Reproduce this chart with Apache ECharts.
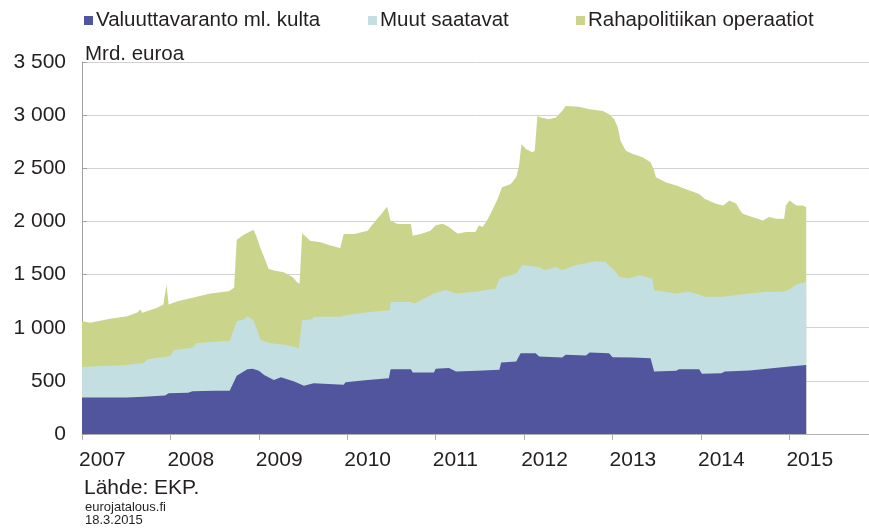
<!DOCTYPE html>
<html>
<head>
<meta charset="utf-8">
<script src="https://cdn.jsdelivr.net/npm/echarts@6/dist/echarts.min.js"></script>
<style>
  html, body { margin: 0; padding: 0; background: #fff; }
  #chart { width: 869px; height: 529px; }
</style>
</head>
<body>
<div id="chart"></div>
<script>
// EKP:n tase, mrd. euroa (luettu kuvasta)
let seriesNames = ['Valuuttavaranto ml. kulta', 'Muut saatavat', 'Rahapolitiikan operaatiot'];
let yearTicks = [2007, 2008, 2009, 2010, 2011, 2012, 2013, 2014, 2015];

// valuuttavaranto (alin kerros)
let reserveYears = [2007.00, 2007.50, 2007.70, 2007.72, 2007.94, 2007.98, 2008.20, 2008.25, 2008.50, 2008.67,
    2008.75, 2008.81, 2008.87, 2008.93, 2009.00, 2009.06, 2009.17, 2009.25, 2009.40, 2009.51,
    2009.62, 2009.96, 2009.98, 2010.23, 2010.25, 2010.47, 2010.49, 2010.72, 2010.74, 2010.98,
    2011.00, 2011.15, 2011.23, 2011.47, 2011.72, 2011.74, 2011.91, 2011.96, 2012.13, 2012.17,
    2012.43, 2012.47, 2012.70, 2012.74, 2012.96, 2013.00, 2013.23, 2013.43, 2013.47, 2013.72,
    2013.75, 2013.98, 2014.01, 2014.23, 2014.27, 2014.55, 2015.00, 2015.02, 2015.19];
let reserveValues = [344, 344, 350, 359, 362, 384, 388, 403, 406, 406,
    547, 578, 609, 615, 594, 556, 509, 534, 494, 454,
    478, 463, 488, 509, 525, 525, 609, 609, 578, 578,
    615, 620, 589, 595, 604, 673, 682, 760, 760, 729,
    720, 745, 738, 767, 760, 723, 719, 713, 588, 594,
    609, 609, 566, 572, 588, 597, 634, 650, 650];

// valuuttavaranto + muut saatavat
let otherYears = [2007.00, 2007.50, 2007.70, 2007.74, 2008.00, 2008.04, 2008.25, 2008.29, 2008.60, 2008.67,
    2008.75, 2008.83, 2008.87, 2008.94, 2009.02, 2009.13, 2009.32, 2009.45, 2009.49, 2009.60,
    2009.62, 2009.92, 2009.98, 2010.25, 2010.48, 2010.49, 2010.72, 2010.76, 2010.87, 2010.98,
    2011.00, 2011.11, 2011.23, 2011.45, 2011.68, 2011.72, 2011.91, 2011.98, 2012.17, 2012.23,
    2012.36, 2012.43, 2012.58, 2012.81, 2012.92, 2013.02, 2013.08, 2013.19, 2013.30, 2013.45,
    2013.47, 2013.72, 2013.87, 2014.00, 2014.04, 2014.25, 2014.47, 2014.74, 2014.92, 2015.00,
    2015.08, 2015.19];
let otherValues = [631, 650, 669, 703, 734, 790, 812, 853, 875, 875,
    1062, 1078, 1109, 1071, 884, 853, 837, 806, 1071, 1080,
    1102, 1102, 1118, 1149, 1165, 1243, 1243, 1227, 1274, 1321,
    1338, 1354, 1323, 1338, 1370, 1463, 1510, 1588, 1572, 1541,
    1572, 1541, 1588, 1625, 1619, 1541, 1478, 1463, 1494, 1463,
    1353, 1322, 1338, 1306, 1291, 1291, 1316, 1338, 1338, 1359,
    1406, 1431];

// kaikki yhteensa (ylin reuna)
let totalYears = [2007.00, 2007.09, 2007.32, 2007.51, 2007.62, 2007.66, 2007.68, 2007.85, 2007.92, 2007.955,
    2007.98, 2008.08, 2008.25, 2008.45, 2008.66, 2008.72, 2008.75, 2008.83, 2008.90, 2008.94,
    2008.97, 2009.02, 2009.06, 2009.11, 2009.17, 2009.28, 2009.38, 2009.43, 2009.46, 2009.49,
    2009.58, 2009.70, 2009.81, 2009.92, 2009.96, 2010.08, 2010.23, 2010.32, 2010.40, 2010.45,
    2010.49, 2010.57, 2010.72, 2010.74, 2010.83, 2010.94, 2011.00, 2011.08, 2011.15, 2011.25,
    2011.34, 2011.45, 2011.49, 2011.53, 2011.58, 2011.62, 2011.70, 2011.75, 2011.85, 2011.91,
    2011.94, 2011.97, 2012.02, 2012.09, 2012.12, 2012.15, 2012.19, 2012.28, 2012.36, 2012.43,
    2012.47, 2012.62, 2012.74, 2012.89, 2012.96, 2013.02, 2013.06, 2013.09, 2013.15, 2013.23,
    2013.34, 2013.43, 2013.47, 2013.49, 2013.60, 2013.72, 2013.87, 2013.98, 2014.04, 2014.17,
    2014.25, 2014.32, 2014.40, 2014.43, 2014.47, 2014.58, 2014.70, 2014.77, 2014.85, 2014.94,
    2014.96, 2015.00, 2015.08, 2015.15, 2015.19];
let totalValues = [1062, 1047, 1084, 1109, 1141, 1172, 1141, 1187, 1219, 1406,
    1219, 1250, 1281, 1322, 1344, 1375, 1828, 1875, 1906, 1922,
    1866, 1742, 1663, 1554, 1539, 1523, 1476, 1430, 1414, 1888,
    1819, 1804, 1773, 1751, 1882, 1882, 1913, 2006, 2084, 2137,
    2006, 1975, 1975, 1866, 1882, 1913, 1963, 1978, 1947, 1885,
    1900, 1900, 1963, 1947, 2009, 2072, 2212, 2322, 2353, 2415,
    2509, 2728, 2681, 2650, 2666, 2993, 2978, 2962, 2978, 3040,
    3087, 3078, 3056, 3040, 3009, 2962, 2884, 2759, 2666, 2634,
    2603, 2556, 2478, 2416, 2369, 2338, 2291, 2259, 2213, 2166,
    2150, 2197, 2166, 2119, 2072, 2041, 2009, 2041, 2025, 2025,
    2150, 2197, 2150, 2150, 2134];

let colors = ['#50559e', '#c4dfe2', '#cad58b'];
let textColor = '#231f20';
let font = 'Liberation Sans, Arial, sans-serif';

function pairs(xs, ys) {
    return xs.map(function (x, i) { return [x, ys[i]]; });
}

function areaSeries(name, data, color) {
    return {
        name: name,
        type: 'line',
        data: data,
        showSymbol: false,
        symbol: 'none',
        silent: true,
        color: color,
        lineStyle: { width: 0 },
        areaStyle: { color: color, opacity: 1, origin: 'start' }
    };
}

function oneLegend(name, left) {
    return {
        data: [name],
        left: left,
        top: 5,
        icon: 'rect',
        itemWidth: 9,
        itemHeight: 9,
        itemGap: 0,
        selectedMode: false,
        textStyle: { color: textColor, fontSize: 20.5, fontFamily: font, padding: [0, 0, 0, -2] }
    };
}

let chart = echarts.init(document.getElementById('chart'));
let option = {
    animation: false,
    backgroundColor: '#fff',
    textStyle: { fontFamily: font },
    legend: [
        oneLegend(seriesNames[0], 79),
        oneLegend(seriesNames[1], 363),
        oneLegend(seriesNames[2], 571)
    ],
    title: [
        { text: 'Mrd. euroa', left: 80, top: 39, textStyle: { color: textColor, fontSize: 20.5, fontWeight: 'normal' } },
        { text: 'Lähde: EKP.', left: 79, top: 473, textStyle: { color: textColor, fontSize: 21, fontWeight: 'normal' } },
        { text: 'eurojatalous.fi', left: 80, top: 496, textStyle: { color: textColor, fontSize: 13, fontWeight: 'normal' } },
        { text: '18.3.2015', left: 80, top: 509, textStyle: { color: textColor, fontSize: 13, fontWeight: 'normal' } }
    ],
    grid: { left: 82, right: 0, top: 62, bottom: 95 },
    xAxis: {
        type: 'value',
        min: yearTicks[0],
        max: 2015.9,
        interval: 1,
        splitLine: { show: false },
        axisLine: { show: true, lineStyle: { color: '#b0b0b0', width: 1 } },
        axisTick: { show: true, length: 6, lineStyle: { color: '#b0b0b0' } },
        axisLabel: {
            color: textColor, fontSize: 21, align: 'left', margin: 16, padding: [0, 0, 0, -3],
            showMaxLabel: false,
            formatter: function (v) { return yearTicks.indexOf(v) >= 0 ? String(v) : ''; }
        }
    },
    yAxis: {
        type: 'value',
        min: 0,
        max: 3500,
        interval: 500,
        splitLine: { show: true, lineStyle: { color: '#d2d2d2', width: 1 } },
        axisLine: { show: true, lineStyle: { color: '#a0a0a0', width: 1 } },
        axisTick: { show: true, inside: true, length: 5, lineStyle: { color: '#a0a0a0' } },
        axisLabel: {
            color: textColor, fontSize: 21, margin: 16,
            formatter: function (v) { return v >= 1000 ? Math.floor(v / 1000) + ' ' + String(v % 1000).padStart(3, '0') : String(v); }
        }
    },
    // piirretaan paallekkain: yhteensa alimmaksi, valuuttavaranto paalimmaiseksi
    series: [
        areaSeries(seriesNames[2], pairs(totalYears, totalValues), colors[2]),
        areaSeries(seriesNames[1], pairs(otherYears, otherValues), colors[1]),
        areaSeries(seriesNames[0], pairs(reserveYears, reserveValues), colors[0])
    ]
};
chart.setOption(option);
</script>
</body>
</html>
